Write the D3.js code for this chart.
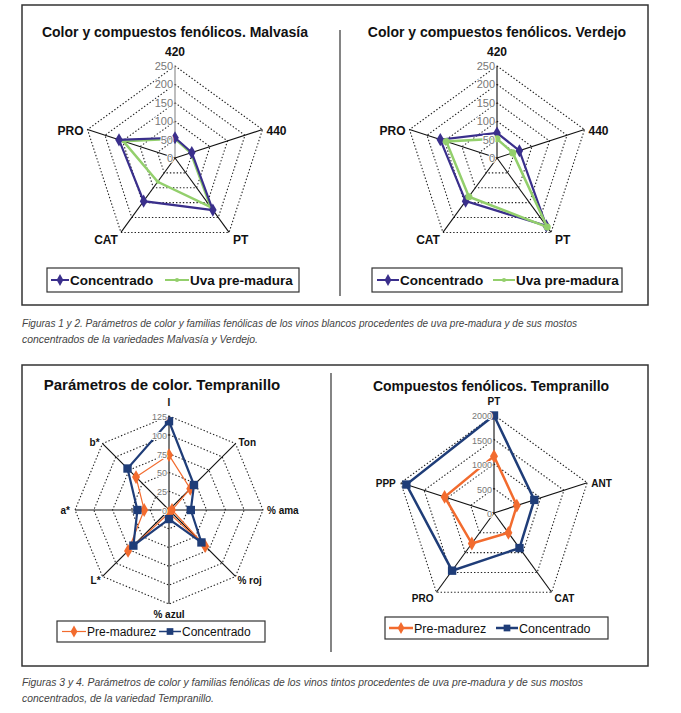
<!DOCTYPE html>
<html><head><meta charset="utf-8">
<script src="https://cdn.jsdelivr.net/npm/d3@7"></script>
<style>
html,body{margin:0;padding:0;background:#fff;}
svg{display:block;font-family:"Liberation Sans",Arial,sans-serif;}
</style></head>
<body>
<svg id="c" width="681" height="713"></svg>
<script>
// ---------- DATA ----------
const whiteAxes = ["420", "440", "PT", "CAT", "PRO"];
const whiteTicks = [0, 50, 100, 150, 200, 250];
const whiteSeries = ["Concentrado", "Uva pre-madura"];
const malvasiaConc = [55, 48, 175, 145, 160];
const malvasiaUva = [52, 45, 165, 80, 148];
const verdejoConc = [68, 64, 228, 145, 162];
const verdejoUva = [52, 45, 232, 130, 145];

const colorAxes = ["I", "Ton", "% ama", "% roj", "% azul", "L*", "a*", "b*"];
const colorTicks = [0, 25, 50, 75, 100, 125];
const redSeries = ["Pre-madurez", "Concentrado"];
const colorPre = [73, 40, 4, 68, 4, 77, 33, 62];
const colorConc = [118, 47, 29, 61, 12, 67, 42, 78];

const fenAxes = ["PT", "ANT", "CAT", "PRO", "PPP"];
const fenTicks = [0, 500, 1000, 1500, 2000];
const fenPre = [1160, 490, 500, 770, 1060];
const fenConc = [1990, 865, 885, 1455, 1880];

const titles = [
  "Color y compuestos fenólicos. Malvasía",
  "Color y compuestos fenólicos. Verdejo",
  "Parámetros de color. Tempranillo",
  "Compuestos fenólicos. Tempranillo"
];
const captions = [
  ["Figuras 1 y 2. Parámetros de color y familias fenólicas de los vinos blancos procedentes de uva pre-madura y de sus mostos",
   "concentrados de la variedades Malvasía y Verdejo."],
  ["Figuras 3 y 4. Parámetros de color y familias fenólicas de los vinos tintos procedentes de uva pre-madura y de sus mostos",
   "concentrados, de la variedad Tempranillo."]
];

// ---------- STYLE ----------
const PURPLE = "#3a2f8c", GREEN = "#93cf6c", ORANGE = "#f26b2e", NAVY = "#1f3d78";
const svg = d3.select("#c");

// frames
svg.append("rect").attr("x", 22).attr("y", 5).attr("width", 626).attr("height", 300)
  .attr("fill", "none").attr("stroke", "#333").attr("stroke-width", 1.5);
svg.append("line").attr("x1", 340).attr("x2", 340).attr("y1", 30).attr("y2", 296)
  .attr("stroke", "#333").attr("stroke-width", 1.2);
svg.append("rect").attr("x", 22).attr("y", 365).attr("width", 626).attr("height", 301)
  .attr("fill", "none").attr("stroke", "#333").attr("stroke-width", 1.5);
svg.append("line").attr("x1", 331).attr("x2", 331).attr("y1", 373).attr("y2", 652)
  .attr("stroke", "#333").attr("stroke-width", 1.2);

// titles
const titlePos = [[175, 37, 14], [497, 37, 14], [162, 390, 15], [491, 391, 14]];
titles.forEach((t, i) => {
  svg.append("text").attr("x", titlePos[i][0]).attr("y", titlePos[i][1])
    .attr("text-anchor", "middle").attr("font-size", titlePos[i][2]).attr("font-weight", "bold")
    .attr("fill", "#111").text(t);
});

// captions
const capPos = [[22, 327, 555, 343, 236], [22, 686, 561, 702, 192]];
captions.forEach((c, i) => {
  const p = capPos[i];
  [[c[0], p[1], p[2]], [c[1], p[3], p[4]]].forEach(([txt, y, w]) => {
    svg.append("text").attr("x", p[0]).attr("y", y).attr("font-size", 10)
      .attr("font-style", "italic").attr("fill", "#444")
      .attr("font-family", "'Liberation Sans Narrow','Liberation Sans',sans-serif")
      .attr("textLength", w).attr("lengthAdjust", "spacingAndGlyphs").text(txt);
  });
});

function radar(opt) {
  const g = svg.append("g").attr("transform", `translate(${opt.cx},${opt.cy})`);
  const n = opt.axes.length;
  const r = d3.scaleLinear().domain([0, opt.max]).range([0, opt.R]);
  const ang = d3.scaleLinear().domain([0, n]).range([0, 2 * Math.PI]);
  const ring = d3.lineRadial().curve(d3.curveLinearClosed);
  // grid
  opt.ticks.filter(t => t > 0).forEach(t => {
    g.append("path").attr("d", ring(opt.axes.map((a, i) => [ang(i), r(t)])))
      .attr("fill", "none").attr("stroke", "#222").attr("stroke-width", 1.1)
      .attr("stroke-dasharray", "1.4,2");
  });
  // axes
  opt.axes.forEach((a, i) => {
    const p = d3.pointRadial(ang(i), r(opt.max));
    g.append("line").attr("x1", 0).attr("y1", 0).attr("x2", p[0]).attr("y2", p[1])
      .attr("stroke", i === 0 && opt.grayFirst ? "#888" : "#111").attr("stroke-width", 1.1);
  });
  // series
  opt.series.forEach(s => {
    const pts = s.values.map((v, i) => [ang(i), r(v)]);
    g.append("path").attr("d", ring(pts)).attr("fill", "none")
      .attr("stroke", s.color).attr("stroke-width", s.width);
    if (s.symbol) {
      const sym = d3.symbol().type(s.symbol).size(s.size);
      s.values.forEach((v, i) => {
        const p = d3.pointRadial(ang(i), r(v));
        g.append("path").attr("d", sym()).attr("transform", `translate(${p[0]},${p[1]})`)
          .attr("fill", s.color);
      });
    }
  });
  // tick labels
  opt.ticks.forEach(t => {
    g.append("text").attr("x", -2).attr("y", -r(t) + 4).attr("text-anchor", "end")
      .attr("font-size", opt.tickSize).attr("fill", "#777")
      .attr("stroke", "#fff").attr("stroke-width", 2).attr("paint-order", "stroke")
      .text(t);
  });
  // axis labels
  opt.axes.forEach((a, i) => {
    const p = d3.pointRadial(ang(i), r(opt.max));
    const o = opt.labelOff[i];
    g.append("text").attr("x", p[0] + o[0]).attr("y", p[1] + o[1])
      .attr("text-anchor", o[2]).attr("font-size", opt.labelSize)
      .attr("font-weight", "bold").attr("fill", "#111").text(a);
  });
  return g;
}

function legend(x, y, w, h, items) {
  const g = svg.append("g").attr("transform", `translate(${x},${y})`);
  g.append("rect").attr("width", w).attr("height", h).attr("fill", "#fff")
    .attr("stroke", "#333").attr("stroke-width", 1.2);
  items.forEach(it => {
    g.append("line").attr("x1", it.x).attr("x2", it.x + it.len).attr("y1", h / 2).attr("y2", h / 2)
      .attr("stroke", it.color).attr("stroke-width", it.width);
    g.append("path").attr("d", d3.symbol().type(it.symbol).size(it.size)())
      .attr("transform", `translate(${it.x + it.len / 2},${h / 2})`).attr("fill", it.color);
    g.append("text").attr("x", it.x + it.len + 1).attr("y", h / 2 + it.fs * 0.36).attr("font-size", it.fs)
      .attr("font-weight", it.fw).attr("fill", "#111").text(it.label);
  });
}

const whiteLabelOff = [[0, -10, "middle"], [4, 5, "start"], [4, 12, "start"], [-3, 12, "end"], [-4, 5, "end"]];

radar({cx: 175, cy: 158, R: 92, axes: whiteAxes, max: 250, ticks: whiteTicks, grayFirst: true,
  tickSize: 11, labelSize: 12, labelOff: whiteLabelOff,
  series: [
    {values: malvasiaUva, color: GREEN, width: 2.5, symbol: d3.symbolCircle, size: 12},
    {values: malvasiaConc, color: PURPLE, width: 2.2, symbol: d3.symbolDiamond, size: 50}
  ]});
radar({cx: 497, cy: 158, R: 92, axes: whiteAxes, max: 250, ticks: whiteTicks, grayFirst: false,
  tickSize: 11, labelSize: 12, labelOff: whiteLabelOff,
  series: [
    {values: verdejoConc, color: PURPLE, width: 2.2, symbol: d3.symbolDiamond, size: 50},
    {values: verdejoUva, color: GREEN, width: 2.5, symbol: d3.symbolCircle, size: 40}
  ]});

legend(47, 268, 252, 24, [
  {x: 4, len: 18, label: whiteSeries[0], color: PURPLE, width: 2, symbol: d3.symbolDiamond, size: 40, fs: 13.5, fw: "bold"},
  {x: 118, len: 24, label: whiteSeries[1], color: GREEN, width: 2, symbol: d3.symbolCircle, size: 14, fs: 13.5, fw: "bold"}
]);
legend(372, 268, 250, 24, [
  {x: 5, len: 22, label: whiteSeries[0], color: PURPLE, width: 2, symbol: d3.symbolDiamond, size: 40, fs: 13.5, fw: "bold"},
  {x: 121, len: 22, label: whiteSeries[1], color: GREEN, width: 2, symbol: d3.symbolCircle, size: 14, fs: 13.5, fw: "bold"}
]);

radar({cx: 169, cy: 510, R: 94, axes: colorAxes, max: 125, ticks: colorTicks, grayFirst: false,
  tickSize: 9, labelSize: 10,
  labelOff: [[0, -10, "middle"], [3, 2, "start"], [4, 4, "start"], [2, 8, "start"],
             [0, 14, "middle"], [-2, 8, "end"], [-5, 4, "end"], [-3, 2, "end"]],
  series: [
    {values: colorPre, color: ORANGE, width: 1.2, symbol: d3.symbolDiamond, size: 55},
    {values: colorConc, color: NAVY, width: 2.2, symbol: d3.symbolSquare, size: 70}
  ]});
radar({cx: 494, cy: 513, R: 98, axes: fenAxes, max: 2000, ticks: fenTicks, grayFirst: false,
  tickSize: 9, labelSize: 10,
  labelOff: [[0, -10, "middle"], [4, 4, "start"], [3, 10, "start"], [-3, 10, "end"], [-5, 4, "end"]],
  series: [
    {values: fenPre, color: ORANGE, width: 2.5, symbol: d3.symbolDiamond, size: 55},
    {values: fenConc, color: NAVY, width: 2.5, symbol: d3.symbolSquare, size: 70}
  ]});

legend(57, 621, 208, 21, [
  {x: 5, len: 24, label: redSeries[0], color: ORANGE, width: 1.2, symbol: d3.symbolDiamond, size: 40, fs: 12, fw: "normal"},
  {x: 102, len: 22, label: redSeries[1], color: NAVY, width: 1.5, symbol: d3.symbolSquare, size: 45, fs: 12, fw: "normal"}
]);
legend(385, 617, 223, 22, [
  {x: 4, len: 24, label: redSeries[0], color: ORANGE, width: 2.5, symbol: d3.symbolDiamond, size: 40, fs: 12.5, fw: "normal"},
  {x: 111, len: 22, label: redSeries[1], color: NAVY, width: 2.5, symbol: d3.symbolSquare, size: 45, fs: 12.5, fw: "normal"}
]);
</script>
</body></html>
